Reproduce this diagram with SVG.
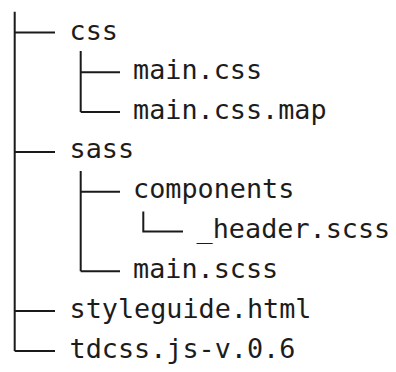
<svg xmlns="http://www.w3.org/2000/svg" width="396" height="372" viewBox="0 0 396 372">
<style>
.t{font-family:"DejaVu Sans Mono","Liberation Mono",monospace;font-size:26.8px;fill:#1c1c1c}
.c{stroke:#1a1a1a;stroke-width:2;fill:none}
</style>
<rect width="396" height="372" fill="#ffffff"/>
<g id="connectors" class="c">
<path d="M14.7 11.7V351M14.7 32.5H55M14.7 151.9H55M14.7 311.1H55M14.7 350.9H55"/>
<path d="M80.7 51V112.1M80.7 72.3H120M80.7 112.1H120"/>
<path d="M80.7 171V271.3M80.7 191.7H120M80.7 271.3H120"/>
<path d="M143.3 211.5V231.5H183"/>
</g>
<g id="css"><text class="t" x="69.5" y="39.5">css</text></g>
<g id="main-css"><text class="t" x="133" y="78.8">main.css</text></g>
<g id="main-css-map"><text class="t" x="133" y="118.6">main.css.map</text></g>
<g id="sass"><text class="t" x="69.5" y="158.4">sass</text></g>
<g id="components"><text class="t" x="133" y="198.2">components</text></g>
<g id="header-scss"><text class="t" x="196.6" y="238">_header.scss</text></g>
<g id="main-scss"><text class="t" x="133" y="277.8">main.scss</text></g>
<g id="styleguide-html"><text class="t" x="69.5" y="317.6">styleguide.html</text></g>
<g id="tdcss"><text class="t" x="69.5" y="357.6">tdcss.js-v.0.6</text></g>
</svg>
